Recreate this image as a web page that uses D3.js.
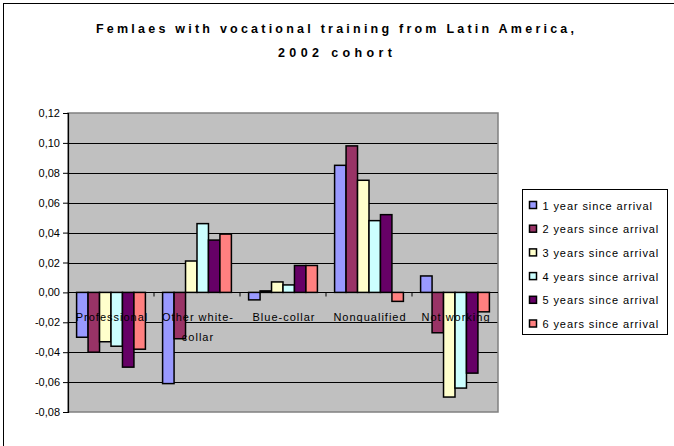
<!DOCTYPE html>
<html lang="en">
<head>
    <meta charset="UTF-8">
    <title>Femlaes with vocational training from Latin America, 2002 cohort</title>
    <script src="https://cdn.jsdelivr.net/npm/d3@7"></script>
    <style>
        body { margin: 0; background: #fff; }
        text { font-family: Arial, "Liberation Sans", sans-serif; }
    </style>
</head>
<body>
    <div id="chart"></div>
    <script>
        // data
        const categories = ["Professional", "Other white-collar", "Blue-collar", "Nonqualified", "Not working"];
        const series = ["1 year since arrival", "2 years since arrival", "3 years since arrival",
                        "4 years since arrival", "5 years since arrival", "6 years since arrival"];
        const year1 = [-0.030, -0.061, -0.005, 0.085, 0.011];
        const year2 = [-0.040, -0.031, 0.001, 0.098, -0.027];
        const year3 = [-0.033, 0.021, 0.007, 0.075, -0.070];
        const year4 = [-0.036, 0.046, 0.005, 0.048, -0.064];
        const year5 = [-0.050, 0.035, 0.018, 0.052, -0.054];
        const year6 = [-0.038, 0.039, 0.018, -0.006, -0.013];
        const yTicks = [-0.08, -0.06, -0.04, -0.02, 0, 0.02, 0.04, 0.06, 0.08, 0.10, 0.12];
        const colors = ["#9999FF", "#993366", "#FFFFCC", "#CCFFFF", "#660066", "#FF8080"];

        const values = [year1, year2, year3, year4, year5, year6];
        const rows = categories.map((c, i) => ({
            category: c,
            vals: series.map((s, j) => ({ series: s, idx: j, value: values[j][i] }))
        }));

        const W = 674, H = 446;
        const plot = { left: 68, right: 498, top: 113, bottom: 412 };

        const svg = d3.select("#chart").append("svg")
            .attr("width", W)
            .attr("height", H);

        // outer chart border (runs off the right and bottom edge)
        svg.append("rect")
            .attr("x", 3.5).attr("y", 3.5)
            .attr("width", 700).attr("height", 480)
            .attr("fill", "none").attr("stroke", "#000").attr("stroke-width", 1);

        // title
        svg.append("text")
            .attr("x", 335).attr("y", 32.5)
            .attr("text-anchor", "middle")
            .attr("font-size", 12.5).attr("font-weight", "bold")
            .attr("textLength", 478).attr("lengthAdjust", "spacing")
            .text("Femlaes with vocational training from Latin America,");
        svg.append("text")
            .attr("x", 335).attr("y", 57)
            .attr("text-anchor", "middle")
            .attr("font-size", 12.5).attr("font-weight", "bold")
            .attr("textLength", 114).attr("lengthAdjust", "spacing")
            .text("2002 cohort");

        // scales
        const x0 = d3.scaleBand()
            .domain(categories)
            .range([plot.left, plot.right]);

        const barW = x0.bandwidth() / 7.5;
        const x1 = d3.scaleBand()
            .domain(series)
            .range([barW * 0.75, x0.bandwidth() - barW * 0.75]);

        const y = d3.scaleLinear()
            .domain([-0.08, 0.12])
            .range([plot.bottom, plot.top]);

        // plot area
        svg.append("rect")
            .attr("x", plot.left).attr("y", plot.top)
            .attr("width", plot.right - plot.left)
            .attr("height", plot.bottom - plot.top)
            .attr("fill", "#C0C0C0");

        // gridlines
        svg.append("g")
            .selectAll("line")
            .data(yTicks.filter(t => t > -0.08 && t < 0.12))
            .join("line")
            .attr("x1", plot.left).attr("x2", plot.right)
            .attr("y1", d => Math.round(y(d)) + 0.5)
            .attr("y2", d => Math.round(y(d)) + 0.5)
            .attr("stroke", "#000").attr("stroke-width", 1);

        svg.append("rect")
            .attr("x", plot.left).attr("y", plot.top)
            .attr("width", plot.right - plot.left)
            .attr("height", plot.bottom - plot.top)
            .attr("fill", "none")
            .attr("stroke", "#808080").attr("stroke-width", 1.5);

        // y axis
        const fmt = d => d3.format(".2f")(d).replace(".", ",").replace("−", "-");
        const yAxis = svg.append("g")
            .attr("transform", `translate(${plot.left},0)`)
            .call(d3.axisLeft(y).tickValues(yTicks).tickSize(5).tickPadding(3).tickFormat(fmt));
        yAxis.select(".domain").attr("stroke", "#000").attr("stroke-width", 1.2);
        yAxis.selectAll(".tick line").attr("stroke", "#000");
        yAxis.selectAll(".tick text")
            .attr("font-size", 11)
            .attr("font-family", "Arial, 'Liberation Sans', sans-serif")
            .attr("fill", "#000");

        // bars
        const groups = svg.append("g")
            .selectAll("g")
            .data(rows)
            .join("g")
            .attr("transform", d => `translate(${x0(d.category)},0)`);

        groups.selectAll("rect")
            .data(d => d.vals)
            .join("rect")
            .attr("x", d => x1(d.series))
            .attr("width", x1.bandwidth())
            .attr("y", d => y(Math.max(0, d.value)))
            .attr("height", d => Math.abs(y(d.value) - y(0)))
            .attr("fill", d => colors[d.idx])
            .attr("stroke", "#000")
            .attr("stroke-width", 1.5);

        // category axis at zero
        const xAxis = svg.append("g")
            .attr("transform", `translate(0,${Math.round(y(0)) + 0.5})`);
        xAxis.append("line")
            .attr("x1", plot.left).attr("x2", plot.right)
            .attr("stroke", "#000").attr("stroke-width", 1.2);
        xAxis.selectAll(".cat-tick")
            .data(categories.slice(1))
            .join("line")
            .attr("class", "cat-tick")
            .attr("x1", d => x0(d)).attr("x2", d => x0(d))
            .attr("y1", 0).attr("y2", 4)
            .attr("stroke", "#000");

        // category labels (wrapped like the original)
        const labelLines = {
            "Other white-collar": ["Other white-", "collar"]
        };
        xAxis.selectAll(".cat-label")
            .data(categories)
            .join("text")
            .attr("class", "cat-label")
            .attr("x", d => x0(d) + x0.bandwidth() / 2 + 1)
            .attr("y", 28)
            .attr("text-anchor", "middle")
            .attr("font-size", 11)
            .attr("letter-spacing", 1)
            .attr("fill", "#000")
            .each(function (d) {
                const lines = labelLines[d] || [d];
                d3.select(this).selectAll("tspan")
                    .data(lines)
                    .join("tspan")
                    .attr("x", x0(d) + x0.bandwidth() / 2 + 1)
                    .attr("dy", (l, i) => i === 0 ? 0 : 20)
                    .text(l => l);
            });

        // legend
        const legend = svg.append("g").attr("transform", "translate(522.5,189.5)");
        legend.append("rect")
            .attr("width", 145).attr("height", 145)
            .attr("fill", "#fff").attr("stroke", "#000").attr("stroke-width", 1);

        const items = legend.selectAll(".item")
            .data(series)
            .join("g")
            .attr("class", "item")
            .attr("transform", (d, i) => `translate(0,${16 + i * 23.7})`);
        items.append("rect")
            .attr("x", 7).attr("y", -4)
            .attr("width", 7).attr("height", 7)
            .attr("fill", (d, i) => colors[i])
            .attr("stroke", "#000").attr("stroke-width", 1.5);
        items.append("text")
            .attr("x", 20).attr("y", 4)
            .attr("font-size", 11)
            .attr("letter-spacing", 0.9)
            .attr("fill", "#000")
            .text(d => d);
    </script>
</body>
</html>
